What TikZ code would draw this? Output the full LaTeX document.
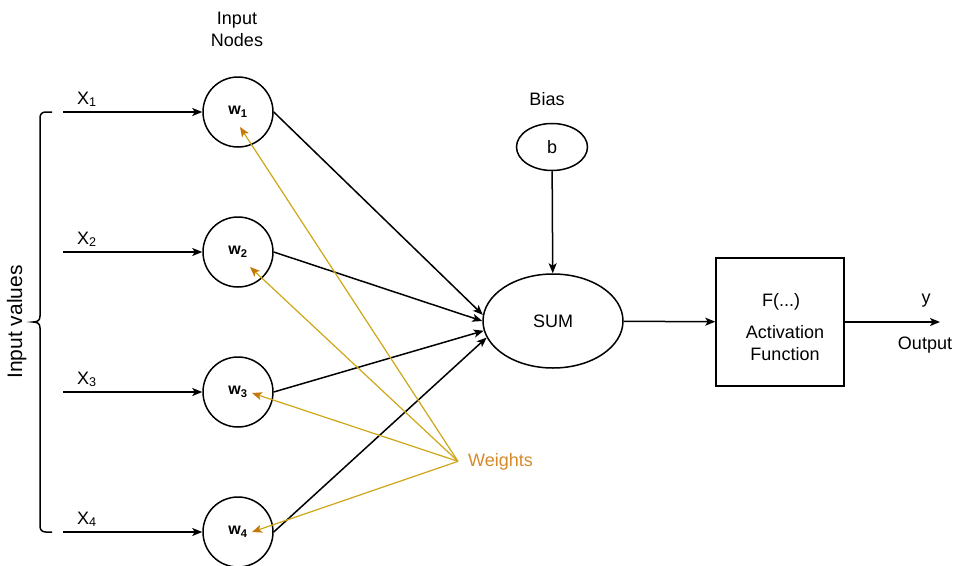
\documentclass[tikz,border=0pt]{standalone}
\usepackage{fontspec}
\setmainfont{Liberation Sans}
\usetikzlibrary{arrows.meta,shapes.geometric,calc}
\definecolor{wline}{RGB}{206,166,22}
\definecolor{wtip}{RGB}{196,120,10}
\definecolor{wtext}{RGB}{214,138,44}

\begin{document}
\begin{tikzpicture}[x=1pt,y=-1pt,
  lbl/.style={font=\fontsize{18}{21}\selectfont, inner sep=0pt},
  neuron/.style={circle, draw, line width=1.5pt, minimum size=70pt, inner sep=0pt,
    font=\fontsize{16}{18}\selectfont\bfseries},
  flow/.style={line width=1.5pt, -{Stealth[length=10pt,width=8pt,inset=2.5pt]}},
  wgt/.style={draw=wline, line width=1.2pt, -{Stealth[length=10pt,width=8pt,inset=2.5pt,color=wtip]}},
  outline/.style={draw, line width=1.5pt},
]
\useasboundingbox (0,0) rectangle (958,565);

% bracket grouping the inputs
\draw[line width=1.5pt] (52,112) -- (46,112) .. controls (42,112) and (40,114) .. (40,118)
  -- (40,316) .. controls (40,320) and (38,322) .. (33,322)
  .. controls (38,322) and (40,324) .. (40,328)
  -- (40,526) .. controls (40,530) and (42,532) .. (46,532) -- (52,532);
\node[lbl, font=\fontsize{21}{24}\selectfont, rotate=90, anchor=base] (inv) at (22,322) {Input values};

% column heading
\node[lbl, anchor=base] (hd1) at (237,24) {Input};
\node[lbl, anchor=base] (hd2) at (237,46) {Nodes};

% input nodes
\node[neuron] (w1) at (238,112) {w\textsubscript{1}};
\node[neuron] (w2) at (238,252) {w\textsubscript{2}};
\node[neuron] (w3) at (238,392) {w\textsubscript{3}};
\node[neuron] (w4) at (238,532) {w\textsubscript{4}};

% input values
\coordinate (x1) at (63,112);
\coordinate (x2) at (63,252);
\coordinate (x3) at (63,392);
\coordinate (x4) at (63,532);
\draw[flow] (x1) -- (w1);
\draw[flow] (x2) -- (w2);
\draw[flow] (x3) -- (w3);
\draw[flow] (x4) -- (w4);
\node[lbl, anchor=base west] (lx1) at (77,104) {X\textsubscript{1}};
\node[lbl, anchor=base west] (lx2) at (77,244) {X\textsubscript{2}};
\node[lbl, anchor=base west] (lx3) at (77,384) {X\textsubscript{3}};
\node[lbl, anchor=base west] (lx4) at (77,524) {X\textsubscript{4}};

% summation and bias
\node[outline, ellipse, lbl, minimum width=140pt, minimum height=94pt] (sum) at (553,321) {SUM};
\node[outline, ellipse, lbl, minimum width=71pt, minimum height=47pt] (b) at (552,147) {b};
\node[lbl, anchor=base] (biaslbl) at (547,105) {Bias};
\draw[flow] (b) -- (sum);

\draw[flow] (w1.east) -- (sum.175);
\draw[flow] (w2.east) -- (sum.180);
\draw[flow] (w3.east) -- (sum.188);
\draw[flow] (w4.east) -- (sum.194);

% activation block
\node[outline, minimum width=128pt, minimum height=128pt] (act) at (780,322) {};
\node[lbl, anchor=base] (fx) at (781,306) {F(...)};
\node[lbl, anchor=base] (fa) at (785,338) {Activation};
\node[lbl, anchor=base] (ff) at (785,360) {Function};
\draw[flow] (sum) -- (act);

% output
\coordinate (out) at (940,322);
\draw[flow] (act) -- (out);
\node[lbl, anchor=base] (ylab) at (926,303) {y};
\node[lbl, anchor=base] (outlab) at (925,349) {Output};

% weights annotation
\node[lbl, text=wtext, anchor=base west, inner xsep=10pt] (wts) at (458,466) {Weights};
\draw[wgt] (wts.west) -- ($(w1.center)+(2,15)$);
\draw[wgt] (wts.west) -- ($(w2.center)+(12,15)$);
\draw[wgt] (wts.west) -- ($(w3.center)+(14,1)$);
\draw[wgt] (wts.west) -- ($(w4.center)+(14,0)$);
\end{tikzpicture}
\end{document}
